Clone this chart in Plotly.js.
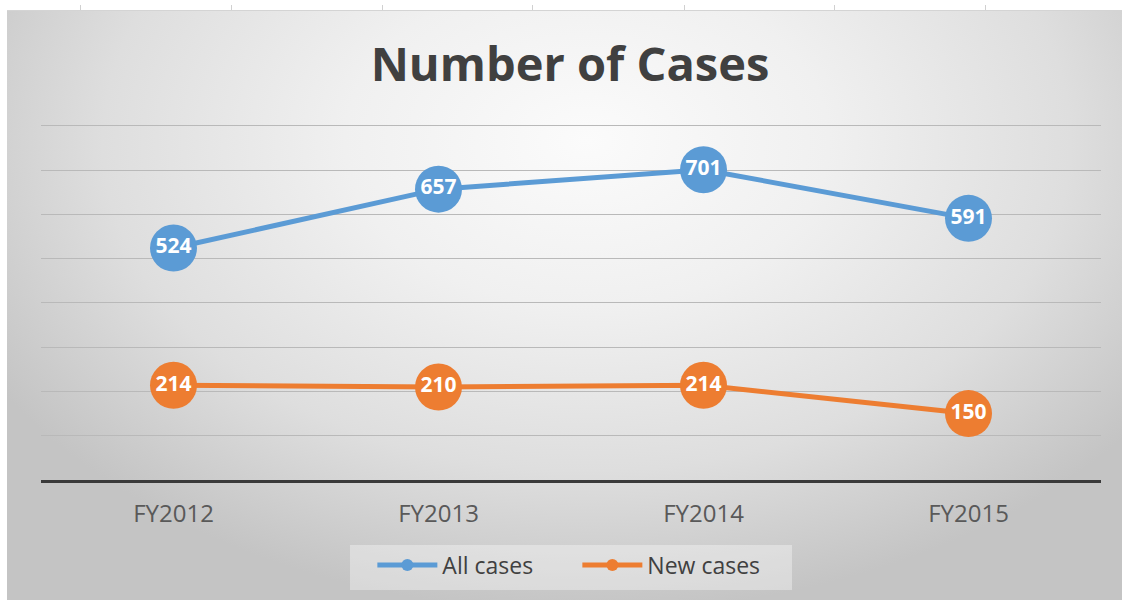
<!DOCTYPE html>
<html>
<head>
<meta charset="utf-8">
<script src="https://cdn.plot.ly/plotly-3.0.1.min.js"></script>
<style>
  html, body { margin: 0; padding: 0; background: #ffffff; }
  #wrap { position: relative; width: 1122px; height: 600px; overflow: hidden; background: #ffffff; }
  #bg { position: absolute; left: 7px; top: 10px; width: 1115px; height: 590px;
        border-top: 1px solid #d4d4d4;
        background: radial-gradient(ellipse 62% 80% at 52% 22%, #fbfbfb 0%, #f0f0f0 35%, #dedede 70%, #c4c4c4 100%); }
  .tk { position: absolute; top: 5px; width: 1px; height: 5px; background: #d0d0d0; }
  #chart { position: absolute; left: 0; top: 0; width: 1122px; height: 600px; }
</style>
</head>
<body>
<div id="wrap">
  <div id="bg"></div>
  <div class="tk" style="left:80px"></div>
  <div class="tk" style="left:231px"></div>
  <div class="tk" style="left:382px"></div>
  <div class="tk" style="left:532px"></div>
  <div class="tk" style="left:684px"></div>
  <div class="tk" style="left:834px"></div>
  <div class="tk" style="left:985px"></div>
  <div id="chart"></div>
</div>
<script>
const categories = ["FY2012", "FY2013", "FY2014", "FY2015"];
const allCases = [524, 657, 701, 591];
const newCases = [214, 210, 214, 150];
const seriesNames = ["All cases", "New cases"];
const colors = ["#5B9BD5", "#ED7D31"];
const gridValues = [100, 200, 300, 400, 500, 600, 700, 800];

function mainTrace(vals, color) {
  return {
    x: categories, y: vals, type: "scatter", mode: "lines+markers+text",
    text: vals.map(String), textposition: "middle center",
    textfont: { family: "Open Sans", size: 21, color: "#ffffff", weight: "bold" },
    line: { color: color, width: 5 },
    marker: { color: color, size: 47 },
    showlegend: false, hoverinfo: "x+y", cliponaxis: false
  };
}
function legendTrace(name, color) {
  return {
    x: [null], y: [null], type: "scatter", mode: "lines+markers", name: name,
    line: { color: color, width: 5 }, marker: { color: color, size: 12 }
  };
}

const data = [
  mainTrace(allCases, colors[0]),
  mainTrace(newCases, colors[1]),
  legendTrace(seriesNames[0], colors[0]),
  legendTrace(seriesNames[1], colors[1])
];

const layout = {
  width: 1122, height: 600,
  paper_bgcolor: "rgba(0,0,0,0)", plot_bgcolor: "rgba(0,0,0,0)",
  margin: { l: 41, r: 21, t: 117, b: 120 },
  title: {
    text: "Number of Cases", x: 0.508, xanchor: "center",
    y: 0.893, yref: "container", yanchor: "middle",
    font: { family: "Open Sans", size: 47, color: "#404040", weight: "bold" }
  },
  xaxis: {
    type: "category", range: [-0.5, 3.5], showgrid: false, zeroline: false,
    showline: true, linecolor: "#3a3a3a", linewidth: 3,
    ticks: "outside", ticklen: 10, tickcolor: "rgba(0,0,0,0)",
    tickfont: { family: "Open Sans", size: 24, color: "#595959" },
    fixedrange: true
  },
  yaxis: {
    range: [0, 820], tickvals: gridValues,
    showgrid: true, gridcolor: "#b9b9b9", gridwidth: 1,
    zeroline: false, showticklabels: false, showline: false, fixedrange: true
  },
  shapes: [{
    type: "rect", xref: "paper", yref: "paper", layer: "below",
    x0: 0.2915, x1: 0.7085, y0: -0.303, y1: -0.179,
    fillcolor: "rgba(255,255,255,0.35)", line: { width: 0 }
  }],
  legend: {
    orientation: "h", x: 0.506, xanchor: "center", y: -0.175, yanchor: "top",
    bgcolor: "rgba(0,0,0,0)", itemwidth: 60,
    entrywidth: 130, entrywidthmode: "pixels",
    font: { family: "Open Sans", size: 23, color: "#404040" }
  },
  showlegend: true
};

Plotly.newPlot("chart", data, layout, { displayModeBar: false, staticPlot: true });
</script>
</body>
</html>
